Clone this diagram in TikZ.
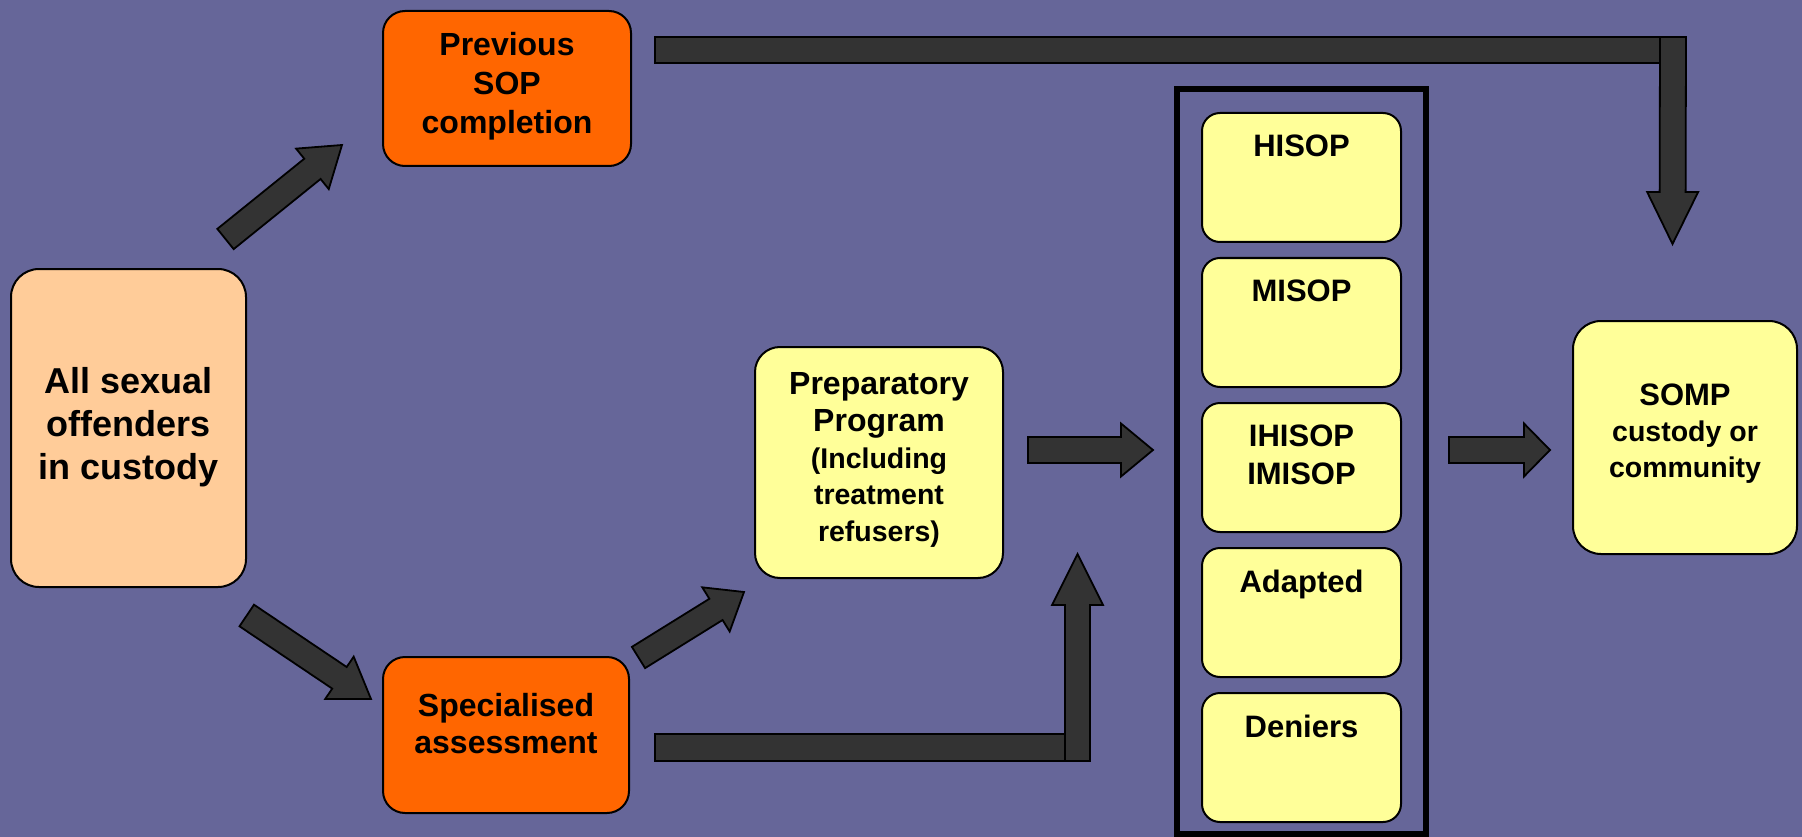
\documentclass[tikz,border=0pt]{standalone}
\usepackage{fontspec}
\setmainfont{Liberation Sans}
\usetikzlibrary{calc}
\definecolor{bg}{RGB}{102,102,153}
\definecolor{orangebox}{RGB}{255,102,0}
\definecolor{peach}{RGB}{255,204,153}
\definecolor{paleyellow}{RGB}{255,255,153}
\definecolor{arrowgray}{RGB}{51,51,51}
\newcommand\blockarrow[5]{% #1 tail, #2 tip, #3 half shaft, #4 half head, #5 head length
  \coordinate (#1-hb) at ($(#2)!#5!(#1)$);
  \draw[barrow] ($(#1)!#3!90:(#2)$) -- ($(#1-hb)!#3!-90:(#1)$) -- ($(#1-hb)!#4!-90:(#1)$)
    -- (#2) -- ($(#1-hb)!#4!90:(#1)$) -- ($(#1-hb)!#3!90:(#1)$) -- ($(#1)!#3!-90:(#2)$) -- cycle;}
\begin{document}
\begin{tikzpicture}[x=1pt,y=-1pt,
  box/.style={draw=black, line width=2pt, inner sep=0pt},
  barrow/.style={draw=black, line width=1.8pt, fill=arrowgray, line join=miter},
  bigtxt/.style={align=center, inner sep=0pt, font=\bfseries\fontsize{36}{43}\selectfont},
  midtxt/.style={align=center, inner sep=0pt, font=\bfseries\fontsize{32}{38}\selectfont},
  smalltxt/.style={align=center, inner sep=0pt, font=\bfseries\fontsize{31}{38}\selectfont},
  inbox/.style={box, fill=paleyellow, rounded corners=18pt, minimum width=199, minimum height=129}
]
\fill[bg] (0,0) rectangle (1802,837);
\useasboundingbox (0,0) rectangle (1802,837);

% main boxes
\node[box, fill=peach, rounded corners=28pt, minimum width=235, minimum height=318] (all) at (128.5,428) {};
\node[bigtxt] (allt) at (128.5,427) {All sexual\\offenders\\in custody};

\node[box, fill=orangebox, rounded corners=22pt, minimum width=248, minimum height=155] (prev) at (507,88.5) {};
\node[midtxt, font=\bfseries\fontsize{32}{39}\selectfont] (prevt) at (507,86) {Previous\\SOP\\completion};

\node[box, fill=orangebox, rounded corners=22pt, minimum width=246, minimum height=156] (spec) at (506,735) {};
\node[midtxt, font=\bfseries\fontsize{32}{37}\selectfont] (spect) at (506,724) {Specialised\\assessment};

\node[box, fill=paleyellow, rounded corners=25pt, minimum width=248, minimum height=231] (prep) at (879,462.5) {};
\node[midtxt, font=\bfseries\fontsize{32}{36.8}\selectfont] (prept) at (879,460)
  {Preparatory\\Program\\{\fontsize{28.5}{36.8}\selectfont (Including}\\{\fontsize{28.5}{36.8}\selectfont treatment}\\{\fontsize{28.5}{36.8}\selectfont refusers)}};

\node[box, fill=paleyellow, rounded corners=28pt, minimum width=224, minimum height=233] (somp) at (1685,437.5) {};
\node[midtxt, font=\bfseries\fontsize{31}{36}\selectfont] (sompt) at (1685,433.5)
  {SOMP\\{\fontsize{28.5}{36}\selectfont custody or}\\{\fontsize{28.5}{36}\selectfont community}};

% container
\node[draw=black, line width=6pt, inner sep=0pt, minimum width=249, minimum height=745] (group) at (1301.5,461.5) {};

% inner programme boxes
\node[inbox] (hisop) at (1301.5,177.5) {};
\node[inbox] (misop) at (1301.5,322.5) {};
\node[inbox] (ihisop) at (1301.5,467.5) {};
\node[inbox] (adapted) at (1301.5,612.5) {};
\node[inbox] (deniers) at (1301.5,757.5) {};
\node[smalltxt, anchor=north] (hisopt) at ($(hisop.north)+(0,23)$) {HISOP};
\node[smalltxt, anchor=north] (misopt) at ($(misop.north)+(0,23)$) {MISOP};
\node[smalltxt, anchor=north] (ihisopt) at ($(ihisop.north)+(0,23)$) {IHISOP\\IMISOP};
\node[smalltxt, anchor=north] (adaptedt) at ($(adapted.north)+(0,23)$) {Adapted};
\node[smalltxt, anchor=north] (deniert) at ($(deniers.north)+(0,23)$) {Deniers};

% block arrows
\coordinate (a1) at (225.5,239);   \coordinate (a1tip) at (342,145);
\coordinate (a2) at (246.75,615.5); \coordinate (a2tip) at (371,699);
\coordinate (a3) at (638.5,657.5); \coordinate (a3tip) at (744,592);
\coordinate (a4) at (1028,450);    \coordinate (a4tip) at (1153,450);
\coordinate (a5) at (1449,450);    \coordinate (a5tip) at (1550,450);
\blockarrow{a1}{a1tip}{13pt}{26pt}{38pt}
\blockarrow{a2}{a2tip}{13pt}{25.5pt}{38pt}
\blockarrow{a3}{a3tip}{12.5pt}{26pt}{33pt}
\blockarrow{a4}{a4tip}{13pt}{26.5pt}{32pt}
\blockarrow{a5}{a5tip}{13pt}{26.5pt}{26pt}

% L-shaped arrows
\draw[barrow] (655,37) rectangle (1686,63);
\coordinate (a6) at (1673,37); \coordinate (a6tip) at (1672.5,244);
\blockarrow{a6}{a6tip}{13pt}{25.5pt}{52pt}

\draw[barrow] (655,734) rectangle (1090,761);
\coordinate (a7) at (1077.5,761); \coordinate (a7tip) at (1077.5,554);
\blockarrow{a7}{a7tip}{12.5pt}{25.5pt}{51pt}
\end{tikzpicture}
\end{document}
